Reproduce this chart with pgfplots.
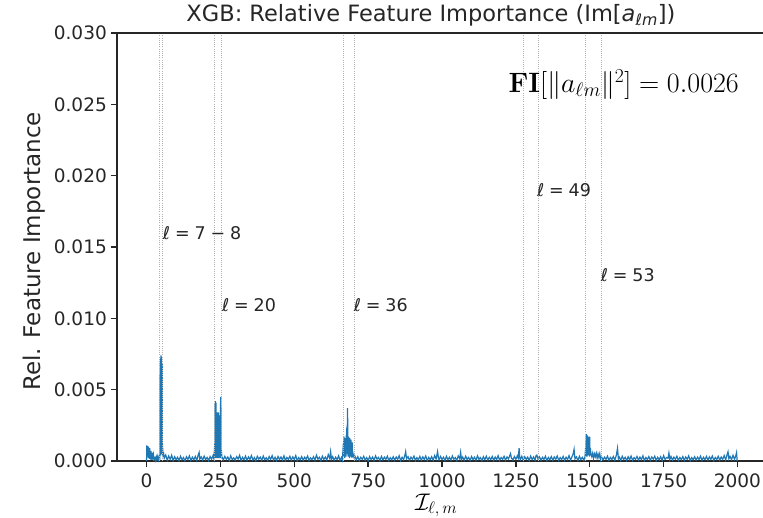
\RequirePackage{fix-cm}
\documentclass[border=0pt]{standalone}
\usepackage{pgfplots}
\usepackage{pgfplotstable}
\usepackage[no-math]{fontspec}
\pgfplotsset{compat=1.18}
\setmainfont{DejaVu Sans}
\definecolor{mplblue}{HTML}{1F77B4}

% importance of each Im[a_lm] feature, indexed by I_{l,m}
\pgfplotstableread{
x y
0 0
1 0.00110
2 0.00030
3 0.00105
4 0.00040
5 0.00092
6 0.00020
7 0.00100
8 0.00035
9 0.00080
10 0.00015
11 0.00090
12 0.00030
13 0.00060
14 0.00010
15 0.00070
16 0.00025
17 0.00050
18 0.00008
19 0.00058
21 0.00030
23 0.00048
25 0.00010
28 0.00022
30 0.00005
33 0.00030
35 0.00010
38 0.00035
40 0.00008
43 0.00028
45 0.00020
46 0.00690
46.5 0.00100
47 0.00720
47.5 0.00040
48 0.00660
48.5 0.00120
49 0.00740
49.5 0.00060
50 0.00700
50.5 0.00090
51 0.00730
51.5 0.00050
52 0.00640
52.5 0.00100
53 0.00680
53.5 0.00040
54 0.00120
55 0.00060
56 0.00040
58 0.00050
60 0.00020
65 0.00042
70 0.00006
75 0.00035
80 0.00012
85 0.00040
90 0.00004
95 0.00030
100 0.00010
105 0.00026
110 0.00003
115 0.00033
120 0.00009
125 0.00024
130 0.00002
135 0.00030
140 0.00011
145 0.00036
150 0.00005
155 0.00027
160 0.00008
165 0.00032
170 0.00004
175 0.00044
178 0.00060
180 0.00012
185 0.00029
190 0.00006
195 0.00034
200 0.00010
205 0.00025
210 0.00003
215 0.00031
220 0.00012
225 0.00038
228 0.00015
231 0.00120
231.5 0.00030
232 0.00400
232.5 0.00050
233 0.00420
233.5 0.00020
234 0.00360
234.5 0.00060
235 0.00410
235.5 0.00030
236 0.00300
236.5 0.00040
237 0.00260
237.5 0.00020
238 0.00340
238.5 0.00050
239 0.00200
239.5 0.00030
240 0.00340
240.5 0.00040
241 0.00300
241.5 0.00020
242 0.00330
242.5 0.00060
243 0.00250
243.5 0.00030
244 0.00340
244.5 0.00040
245 0.00280
245.5 0.00020
246 0.00320
246.5 0.00050
247 0.00220
247.5 0.00030
248 0.00140
248.5 0.00040
249 0.00300
249.5 0.00020
250 0.00400
250.5 0.00060
251 0.00450
251.5 0.00030
252 0.00380
252.5 0.00040
253 0.00080
255 0.00030
260 0.00008
265 0.00033
270 0.00012
275 0.00028
280 0.00004
285 0.00036
290 0.00010
295 0.00022
300 0.00006
305 0.00031
310 0.00014
315 0.00040
320 0.00003
325 0.00026
330 0.00009
335 0.00034
340 0.00005
345 0.00029
350 0.00011
355 0.00038
360 0.00007
365 0.00024
370 0.00002
375 0.00033
380 0.00013
385 0.00027
390 0.00005
395 0.00035
400 0.00010
405 0.00023
410 0.00004
415 0.00031
420 0.00012
425 0.00037
430 0.00006
435 0.00026
440 0.00003
445 0.00032
450 0.00011
455 0.00028
460 0.00007
465 0.00036
470 0.00004
475 0.00025
480 0.00012
485 0.00033
490 0.00006
495 0.00029
500 0.00010
505 0.00038
510 0.00003
515 0.00024
520 0.00009
525 0.00031
530 0.00005
535 0.00027
540 0.00012
545 0.00035
550 0.00004
555 0.00022
560 0.00010
565 0.00030
570 0.00006
575 0.00041
580 0.00013
585 0.00026
590 0.00003
595 0.00034
600 0.00011
605 0.00028
610 0.00006
615 0.00045
620 0.00018
623 0.00066
626 0.00012
630 0.00030
635 0.00005
640 0.00027
645 0.00010
650 0.00036
655 0.00004
660 0.00025
663 0.00008
666 0.00120
667 0.00030
668 0.00170
669 0.00040
670 0.00130
671 0.00020
672 0.00160
673 0.00050
674 0.00100
675 0.00030
676 0.00180
677 0.00060
678 0.00240
679 0.00050
680 0.00370
680.5 0.00080
681 0.00300
681.5 0.00040
682 0.00160
683 0.00030
684 0.00170
685 0.00050
686 0.00120
687 0.00020
688 0.00160
689 0.00040
690 0.00140
691 0.00030
692 0.00150
693 0.00050
694 0.00090
695 0.00020
696 0.00130
697 0.00030
698 0.00060
700 0.00040
703 0.00020
705 0.00035
710 0.00009
715 0.00030
720 0.00004
725 0.00026
730 0.00012
735 0.00033
740 0.00006
745 0.00024
750 0.00002
755 0.00031
760 0.00010
765 0.00028
770 0.00005
775 0.00036
780 0.00013
785 0.00025
790 0.00003
795 0.00032
800 0.00008
805 0.00027
810 0.00011
815 0.00034
820 0.00004
825 0.00023
830 0.00009
835 0.00030
840 0.00006
845 0.00028
850 0.00012
855 0.00037
860 0.00003
865 0.00026
870 0.00010
875 0.00045
877 0.00066
880 0.00015
885 0.00031
890 0.00005
895 0.00027
900 0.00012
905 0.00034
910 0.00004
915 0.00024
920 0.00009
925 0.00032
930 0.00006
935 0.00029
940 0.00011
945 0.00035
950 0.00003
955 0.00025
960 0.00010
965 0.00030
970 0.00005
975 0.00038
980 0.00014
985 0.00066
988 0.00020
990 0.00008
995 0.00032
1000 0.00011
1005 0.00027
1010 0.00004
1015 0.00033
1020 0.00009
1025 0.00026
1030 0.00006
1035 0.00035
1040 0.00012
1045 0.00024
1050 0.00003
1055 0.00036
1060 0.00015
1063 0.00061
1066 0.00010
1070 0.00028
1075 0.00006
1080 0.00033
1085 0.00011
1090 0.00025
1095 0.00004
1100 0.00031
1105 0.00010
1110 0.00027
1115 0.00005
1120 0.00036
1125 0.00012
1130 0.00024
1135 0.00003
1140 0.00030
1145 0.00009
1150 0.00034
1155 0.00006
1160 0.00026
1165 0.00011
1170 0.00032
1175 0.00004
1180 0.00028
1185 0.00010
1190 0.00037
1195 0.00005
1200 0.00025
1205 0.00012
1210 0.00033
1215 0.00006
1220 0.00029
1225 0.00014
1230 0.00042
1232 0.00052
1235 0.00020
1240 0.00008
1245 0.00031
1250 0.00012
1255 0.00036
1258 0.00020
1261 0.00090
1263 0.00025
1265 0.00010
1270 0.00033
1275 0.00006
1280 0.00030
1285 0.00012
1290 0.00027
1295 0.00004
1300 0.00034
1305 0.00010
1310 0.00028
1315 0.00006
1318 0.00036
1321 0.00042
1325 0.00012
1330 0.00029
1335 0.00005
1340 0.00026
1345 0.00011
1350 0.00033
1355 0.00003
1360 0.00025
1365 0.00009
1370 0.00031
1375 0.00006
1380 0.00028
1385 0.00012
1390 0.00035
1395 0.00004
1400 0.00024
1405 0.00010
1410 0.00032
1415 0.00005
1420 0.00027
1425 0.00011
1430 0.00038
1435 0.00006
1440 0.00030
1444 0.00050
1447 0.00082
1450 0.00015
1455 0.00029
1460 0.00004
1465 0.00033
1470 0.00010
1475 0.00026
1480 0.00006
1484 0.00030
1486 0.00090
1487 0.00030
1488 0.00190
1489 0.00050
1490 0.00170
1491 0.00030
1492 0.00180
1493 0.00060
1494 0.00160
1495 0.00040
1496 0.00170
1497 0.00050
1498 0.00120
1499 0.00030
1500 0.00170
1501 0.00040
1502 0.00090
1504 0.00050
1507 0.00030
1510 0.00055
1513 0.00020
1516 0.00050
1519 0.00030
1522 0.00055
1525 0.00020
1528 0.00050
1531 0.00025
1534 0.00052
1537 0.00010
1540 0.00030
1545 0.00008
1550 0.00027
1555 0.00012
1560 0.00034
1565 0.00005
1570 0.00025
1575 0.00010
1580 0.00031
1585 0.00006
1590 0.00040
1594 0.00090
1597 0.00015
1600 0.00028
1605 0.00004
1610 0.00033
1615 0.00011
1620 0.00026
1625 0.00003
1630 0.00030
1635 0.00009
1640 0.00035
1645 0.00005
1650 0.00024
1655 0.00012
1660 0.00032
1665 0.00006
1670 0.00027
1675 0.00010
1680 0.00036
1685 0.00004
1690 0.00025
1695 0.00011
1700 0.00031
1705 0.00006
1710 0.00028
1715 0.00013
1720 0.00034
1725 0.00003
1730 0.00026
1735 0.00009
1740 0.00030
1745 0.00005
1750 0.00037
1755 0.00011
1760 0.00024
1765 0.00020
1768 0.00056
1771 0.00010
1775 0.00032
1780 0.00006
1785 0.00027
1790 0.00012
1795 0.00033
1800 0.00004
1805 0.00025
1810 0.00010
1815 0.00031
1820 0.00005
1825 0.00028
1830 0.00012
1835 0.00036
1840 0.00003
1845 0.00024
1850 0.00009
1855 0.00030
1860 0.00006
1865 0.00027
1870 0.00011
1875 0.00034
1880 0.00005
1885 0.00026
1890 0.00010
1895 0.00032
1900 0.00006
1905 0.00029
1910 0.00012
1915 0.00035
1920 0.00004
1925 0.00025
1930 0.00011
1935 0.00033
1940 0.00006
1945 0.00028
1950 0.00012
1955 0.00038
1960 0.00008
1965 0.00045
1968 0.00065
1971 0.00015
1975 0.00032
1980 0.00010
1985 0.00040
1990 0.00012
1994 0.00035
1997 0.00060
1999 0.00000
}\importance

% block boundaries in I_{l,m}
\newcommand{\blockline}[1]{%
  \addplot[gray!60, line width=0.9pt, dash pattern=on 1pt off 1.2pt, forget plot]
    coordinates {(#1,0) (#1,0.03)};}

\newcommand{\ellnote}[3]{%
  \node[anchor=west, inner sep=0pt, font=\fontsize{17.5}{20}\selectfont, text=black!85]
    at (axis cs:#1,#2) {{\itshape ℓ}\;=\;#3};}

\begin{document}
\begin{tikzpicture}
\begin{axis}[
  at={(0,0)}, anchor=south west,
  scale only axis,
  width=650pt, height=428pt,
  xmin=-100, xmax=2100,
  ymin=0, ymax=0.03,
  xtick={0,250,500,750,1000,1250,1500,1750,2000},
  ytick={0,0.005,0.01,0.015,0.02,0.025,0.03},
  scaled y ticks=false,
  axis x line*=bottom, axis y line*=left,
  tick align=outside,
  major tick length=6pt,
  every tick/.style={line width=1.3pt, black!85},
  axis line style={line width=1.3pt, black!85, -},
  /pgf/number format/assume math mode=true,
  xticklabel style={/pgf/number format/1000 sep={}, inner sep=0pt,
    font=\fontsize{18.5}{22}\selectfont, text=black!85},
  yticklabel style={/pgf/number format/.cd, fixed, fixed zerofill, precision=3,
    /tikz/.cd, inner sep=0pt, font=\fontsize{18.5}{22}\selectfont, text=black!85},
  xticklabel shift=7pt,
  yticklabel shift=4pt,
  title={XGB: Relative Feature Importance (Im[{\itshape a}\textsubscript{\itshape ℓm}])},
  title style={font=\fontsize{22.5}{26}\selectfont, text=black!85,
    at={(axis description cs:0.483,1)}, anchor=base, yshift=5pt, inner sep=0pt},
  ylabel={Rel. Feature Importance},
  ylabel style={font=\fontsize{23}{27}\selectfont, text=black!85,
    at={(axis description cs:-0.127,0.49)}, anchor=center},
  xlabel={$\mathcal{I}_{\ell,\,m}$},
  xlabel style={font=\fontsize{24}{28}\selectfont, inner sep=0pt,
    at={(axis description cs:0.491,-0.104)}, anchor=center},
  clip=false,
]
\addplot[mplblue, line width=1.2pt] table[x=x, y=y] {\importance};

\blockline{45}
\blockline{55}
\blockline{231}
\blockline{253}
\blockline{666}
\blockline{703}
\blockline{1275}
\blockline{1326}
\blockline{1485}
\blockline{1540}

\ellnote{55}{0.0160}{7\;−\;8}
\ellnote{255}{0.0109}{20}
\ellnote{701}{0.0109}{36}
\ellnote{1321}{0.0190}{49}
\ellnote{1537}{0.0130}{53}

\node[anchor=center, inner sep=0pt, font=\fontsize{28}{32}\selectfont]
  at (axis cs:1615,0.0264) {$\mathbf{FI}[\|a_{\ell m}\|^2] = 0.0026$};

% top frame line
\draw[line width=1.3pt, black!85] (axis cs:-100,0.03) -- (axis cs:2100,0.03);
\end{axis}
\pgfresetboundingbox
\useasboundingbox (-117pt,-56pt) rectangle (646pt,461pt);
\end{tikzpicture}
\end{document}
